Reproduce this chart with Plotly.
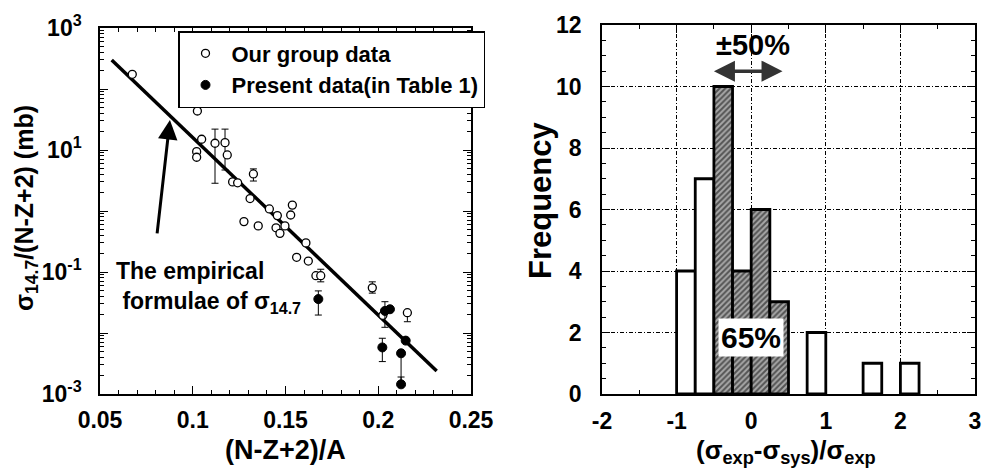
import numpy as np
import plotly.graph_objects as go

# ---------------- left panel data ----------------
our_x = [0.0674, 0.1025, 0.1048, 0.1021, 0.1021, 0.1120, 0.1174, 0.1186, 0.1327,
         0.1215, 0.1242, 0.1309, 0.1413, 0.1456, 0.1537, 0.1528, 0.1276, 0.1353,
         0.1449, 0.1497, 0.1470, 0.1610, 0.1560, 0.1623, 0.1664, 0.1690, 0.1968,
         0.2025, 0.2157]
our_y = [174, 43.6, 15.0, 9.4, 7.6, 12.9, 13.2, 8.3, 4.05,
         3.0, 2.9, 1.6, 1.08, 0.84, 1.25, 0.86, 0.67, 0.57,
         0.53, 0.57, 0.43, 0.30, 0.174, 0.151, 0.087, 0.087, 0.055,
         0.0195, 0.0215]
our_hi = [None, None, None, None, None, 22.0, 22.0, None, 4.9,
          None, None, None, None, None, None, None, None, None,
          None, None, None, None, None, None, None, 0.111, 0.069,
          None, None]
our_lo = [None, None, None, None, None, 2.85, 4.7, None, 3.1,
          None, None, None, None, None, None, None, None, None,
          None, None, None, None, None, None, None, 0.069, 0.045,
          None, 0.0153]

present_x = [0.1677, 0.2036, 0.2063, 0.2148, 0.2022, 0.2123, 0.2123]
present_y = [0.036, 0.023, 0.0245, 0.0075, 0.0058, 0.00465, 0.00144]
present_hi = [0.049, 0.0326, None, None, 0.0082, None, 0.0019]
present_lo = [0.0197, 0.0124, None, None, 0.0034, 0.0016, None]

fit_x = [0.0563, 0.2315]
fit_y = [299.0, 0.00238]

left_xticks = [0.05, 0.10, 0.15, 0.20, 0.25]
left_xtext = ["0.05", "0.1", "0.15", "0.2", "0.25"]
left_yticks = [1e-3, 1e-2, 1e-1, 1e0, 1e1, 1e2, 1e3]
left_ytext = ["10<sup>-3</sup>", "", "10<sup>-1</sup>", "", "10<sup>1</sup>", "", "10<sup>3</sup>"]

# ---------------- right panel data ----------------
bin_left = [-1.0, -0.75, -0.5, -0.25, 0.0, 0.25, 0.75, 1.5, 2.0]
bin_count = [4, 7, 10, 4, 6, 3, 2, 1, 1]
bin_within = [False, False, True, True, True, True, False, False, False]
bin_width = 0.25

right_xticks = [-2, -1, 0, 1, 2, 3]
right_yticks = [0, 2, 4, 6, 8, 10, 12]

FONT = "Liberation Sans"
W, H = 987, 473


def px2paper(xp, yp):
    return xp / W, 1 - yp / H


def errs(y, hi, lo):
    plus = [(h - v) if h is not None else 0 for v, h in zip(y, hi)]
    minus = [(v - l) if l is not None else 0 for v, l in zip(y, lo)]
    return plus, minus


fig = go.Figure()

# fit line
fig.add_trace(go.Scatter(x=fit_x, y=fit_y, mode="lines", line=dict(color="black", width=3.5),
                         showlegend=False, xaxis="x", yaxis="y", hoverinfo="skip"))

op, om = errs(our_y, our_hi, our_lo)
fig.add_trace(go.Scatter(
    x=our_x, y=our_y, mode="markers", name="Our group data",
    marker=dict(symbol="circle", size=8, color="white", line=dict(color="black", width=1.3)),
    error_y=dict(type="data", symmetric=False, array=op, arrayminus=om,
                 color="black", thickness=1, width=3.5),
    xaxis="x", yaxis="y"))

pp, pm = errs(present_y, present_hi, present_lo)
fig.add_trace(go.Scatter(
    x=present_x, y=present_y, mode="markers", name="Present data(in Table 1)",
    marker=dict(symbol="circle", size=9, color="black", line=dict(color="black", width=1)),
    error_y=dict(type="data", symmetric=False, array=pp, arrayminus=pm,
                 color="black", thickness=1, width=3.5),
    xaxis="x", yaxis="y"))

# histogram bars
centers = [b + bin_width / 2 for b in bin_left]
fig.add_trace(go.Bar(
    x=centers, y=bin_count, width=[bin_width] * len(centers),
    marker=dict(color="white", line=dict(color="black", width=2.8),
                pattern=dict(shape=["/" if w else "" for w in bin_within],
                             fgcolor="black", bgcolor="#a8a8a8", size=4, solidity=0.5)),
    showlegend=False, xaxis="x2", yaxis="y2", hoverinfo="skip"))

tickfont = dict(family=FONT, size=23, color="black", weight="bold")
ax_common = dict(showline=True, linecolor="black", linewidth=1.5, mirror="allticks",
                 ticks="inside", tickcolor="black", tickwidth=1.2, zeroline=False,
                 tickfont=tickfont, automargin=False)

x1d = [100 / W, 471 / W]
y1d = [1 - 394 / H, 1 - 28 / H]
x2d = [602 / W, 975 / W]
y2d = [1 - 394 / H, 1 - 25 / H]

GRIDDASH = "4px,2px,1px,2px"

fig.update_layout(
    width=W, height=H, margin=dict(l=0, r=0, t=0, b=0, autoexpand=False),
    paper_bgcolor="white", plot_bgcolor="white",
    font=dict(family=FONT, color="black", weight="bold"),
    barmode="overlay",
    xaxis=dict(domain=x1d, anchor="y", range=[0.05, 0.25], tickmode="array",
               tickvals=left_xticks, ticktext=left_xtext, ticklen=8, showgrid=False,
               ticklabelstandoff=5,
               minor=dict(dtick=0.01, tick0=0.05, ticks="inside", ticklen=4, tickcolor="black"),
               **ax_common),
    yaxis=dict(domain=y1d, anchor="x", type="log", range=[-3, 3], tickmode="array",
               tickvals=left_yticks, ticktext=left_ytext, ticklen=8, showgrid=False,
               ticklabelstandoff=12,
               minor=dict(tickvals=[m * 10.0 ** k for k in range(-3, 3) for m in range(2, 10)],
                          ticks="inside", ticklen=4, tickcolor="black"),
               **ax_common),
    xaxis2=dict(domain=x2d, anchor="y2", range=[-2, 3], tickmode="array",
                tickvals=right_xticks, ticktext=[str(v) for v in right_xticks], ticklen=8,
                showgrid=True, gridcolor="black", gridwidth=1, griddash=GRIDDASH,
                ticklabelstandoff=6,
                minor=dict(dtick=0.5, tick0=-2, ticks="inside", ticklen=4, tickcolor="black"),
                **ax_common),
    yaxis2=dict(domain=y2d, anchor="x2", range=[0, 12], tickmode="array",
                tickvals=right_yticks, ticktext=[str(v) for v in right_yticks], ticklen=8,
                showgrid=True, gridcolor="black", gridwidth=1, griddash=GRIDDASH,
                ticklabelstandoff=14,
                minor=dict(dtick=0.5, tick0=0, ticks="inside", ticklen=4, tickcolor="black"),
                **ax_common),
    legend=dict(x=178 / W, y=1 - 31 / H, xanchor="left", yanchor="top",
                bgcolor="white", bordercolor="black", borderwidth=1.5,
                font=dict(family=FONT, size=22, color="black", weight="bold"),
                tracegroupgap=0, itemwidth=42),
)

ann = []
# axis titles
x, y = px2paper(26, 208)
ann.append(dict(text="σ<sub>14.7</sub>/(N-Z+2) (mb)", x=x, y=y, xref="paper", yref="paper",
                textangle=-90, showarrow=False, xanchor="center", yanchor="middle",
                font=dict(family=FONT, size=25, weight="bold")))
x, y = px2paper(285, 450)
ann.append(dict(text="(N-Z+2)/A", x=x, y=y, xref="paper", yref="paper", showarrow=False,
                xanchor="center", yanchor="middle", font=dict(family=FONT, size=27, weight="bold")))
x, y = px2paper(540, 200)
ann.append(dict(text="Frequency", x=x, y=y, xref="paper", yref="paper", textangle=-90,
                showarrow=False, xanchor="center", yanchor="middle",
                font=dict(family=FONT, size=31, weight="bold")))
x, y = px2paper(786, 451)
ann.append(dict(text="(σ<sub>exp</sub>-σ<sub>sys</sub>)/σ<sub>exp</sub>", x=x, y=y,
                xref="paper", yref="paper", showarrow=False, xanchor="center", yanchor="middle",
                font=dict(family=FONT, size=26, weight="bold")))
# empirical formula text and arrow
x, y = px2paper(114, 287)
ann.append(dict(text="The empirical<br> formulae of σ<sub>14.7</sub>", x=x, y=y,
                xref="paper", yref="paper", showarrow=False, xanchor="left", yanchor="middle",
                align="left", font=dict(family=FONT, size=23, weight="bold")))
ann.append(dict(text="", x=0.0877, y=np.log10(31), xref="x", yref="y",
                ax=0.0807, ay=np.log10(0.405), axref="x", ayref="y",
                showarrow=True, arrowhead=2, arrowsize=1.3, arrowwidth=3, arrowcolor="black"))
# right panel annotations
ann.append(dict(text="±50%", x=0.02, y=11.35, xref="x2", yref="y2", showarrow=False,
                xanchor="center", yanchor="middle", font=dict(family=FONT, size=29, weight="bold")))
ann.append(dict(text="", x=0.42, y=10.5, xref="x2", yref="y2", ax=-0.52, ay=10.5,
                axref="x2", ayref="y2", showarrow=True, arrowhead=2, arrowside="end+start",
                arrowsize=1.2, arrowwidth=3.5, arrowcolor="#333"))
ann.append(dict(text="65%", x=0.0, y=1.85, xref="x2", yref="y2", showarrow=False,
                xanchor="center", yanchor="middle", bgcolor="white", borderpad=2,
                font=dict(family=FONT, size=30, weight="bold")))
fig.update_layout(annotations=ann)

fig.write_html("out.html")
